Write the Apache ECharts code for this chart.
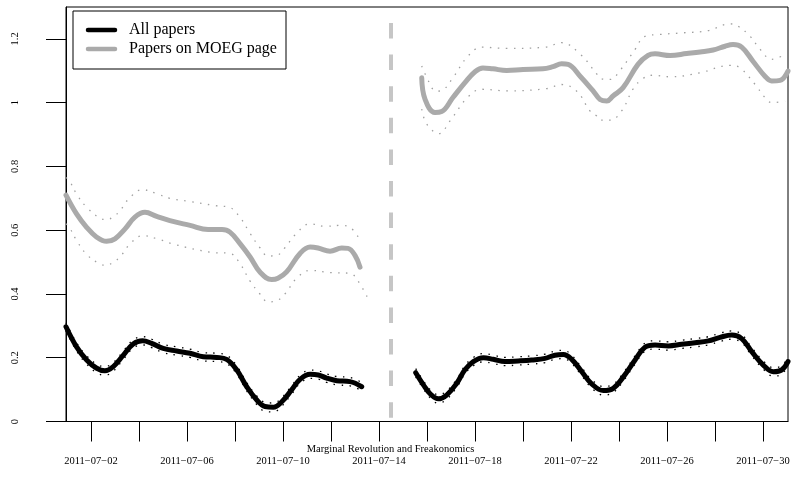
<!DOCTYPE html>
<html><head><meta charset="utf-8">
<script src="https://cdn.jsdelivr.net/npm/echarts@6/dist/echarts.min.js"></script>
<style>html,body{margin:0;padding:0;background:#fff}#c{width:793px;height:497px}</style>
</head><body><div id="c"></div>
<script>
// x values are days of July 2011
const xTickDays = [2,4,6,8,10,12,14,16,18,20,22,24,26,28,30];
const xLabelDays = [2,6,10,14,18,22,26,30];
const xLabels = ['2011\u221207\u221202','2011\u221207\u221206','2011\u221207\u221210','2011\u221207\u221214','2011\u221207\u221218','2011\u221207\u221222','2011\u221207\u221226','2011\u221207\u221230'];
const yTickValues = [0,0.2,0.4,0.6,0.8,1,1.2];
const yTickLabels = ['0','0.2','0.4','0.6','0.8','1','1.2'];
const eventDay = 14.49;
const eventLabel = 'Marginal Revolution and Freakonomics';
const seriesNames = ['All papers','Papers on MOEG page'];

const allLeft = [[0.96,0.297],[1.40,0.234],[1.82,0.193],[2.24,0.167],[2.58,0.159],[2.93,0.172],[3.35,0.208],[3.76,0.243],[4.15,0.253],[4.53,0.245],[5.01,0.229],[5.57,0.221],[6.13,0.214],[6.68,0.203],[7.24,0.201],[7.65,0.195],[8.07,0.162],[8.49,0.109],[8.90,0.068],[9.25,0.047],[9.60,0.045],[9.95,0.062],[10.36,0.099],[10.71,0.132],[11.13,0.148],[11.47,0.146],[11.82,0.136],[12.24,0.128],[12.79,0.125],[13.28,0.109]];
const allLeftUpper = [[0.96,0.310],[1.40,0.247],[1.82,0.206],[2.24,0.180],[2.58,0.172],[2.93,0.185],[3.35,0.221],[3.76,0.256],[4.15,0.266],[4.53,0.258],[5.01,0.242],[5.57,0.234],[6.13,0.227],[6.68,0.216],[7.24,0.214],[7.65,0.208],[8.07,0.175],[8.49,0.122],[8.90,0.081],[9.25,0.060],[9.60,0.058],[9.95,0.075],[10.36,0.112],[10.71,0.145],[11.13,0.161],[11.47,0.159],[11.82,0.149],[12.24,0.141],[12.79,0.138],[13.28,0.122]];
const allLeftLower = [[0.96,0.284],[1.40,0.221],[1.82,0.180],[2.24,0.153],[2.58,0.145],[2.93,0.158],[3.35,0.195],[3.76,0.230],[4.15,0.240],[4.53,0.232],[5.01,0.216],[5.57,0.208],[6.13,0.201],[6.68,0.190],[7.24,0.188],[7.65,0.182],[8.07,0.149],[8.49,0.096],[8.90,0.054],[9.25,0.032],[9.60,0.030],[9.95,0.048],[10.36,0.086],[10.71,0.119],[11.13,0.135],[11.47,0.133],[11.82,0.123],[12.24,0.115],[12.79,0.112],[13.28,0.096]];
const allRight = [[15.53,0.153],[15.85,0.115],[16.13,0.087],[16.47,0.071],[16.82,0.083],[17.24,0.120],[17.58,0.162],[17.93,0.188],[18.35,0.200],[18.76,0.195],[19.25,0.188],[19.80,0.190],[20.36,0.193],[20.92,0.198],[21.33,0.208],[21.68,0.210],[22.03,0.195],[22.45,0.156],[22.86,0.118],[23.35,0.097],[23.76,0.104],[24.18,0.140],[24.67,0.193],[25.08,0.233],[25.50,0.240],[26.05,0.237],[26.61,0.242],[27.17,0.247],[27.72,0.253],[28.21,0.264],[28.70,0.271],[29.11,0.260],[29.53,0.219],[30.01,0.177],[30.43,0.156],[30.78,0.162],[31.04,0.188]];
const allRightUpper = [[15.53,0.166],[15.85,0.128],[16.13,0.100],[16.47,0.084],[16.82,0.096],[17.24,0.133],[17.58,0.175],[17.93,0.201],[18.35,0.213],[18.76,0.208],[19.25,0.201],[19.80,0.203],[20.36,0.206],[20.92,0.211],[21.33,0.221],[21.68,0.223],[22.03,0.208],[22.45,0.169],[22.86,0.131],[23.35,0.110],[23.76,0.117],[24.18,0.153],[24.67,0.206],[25.08,0.246],[25.50,0.253],[26.05,0.250],[26.61,0.255],[27.17,0.260],[27.72,0.266],[28.21,0.277],[28.70,0.284],[29.11,0.273],[29.53,0.232],[30.01,0.190],[30.43,0.169],[30.78,0.175],[31.04,0.201]];
const allRightLower = [[15.53,0.140],[15.85,0.102],[16.13,0.074],[16.47,0.057],[16.82,0.070],[17.24,0.107],[17.58,0.149],[17.93,0.175],[18.35,0.187],[18.76,0.182],[19.25,0.175],[19.80,0.177],[20.36,0.180],[20.92,0.185],[21.33,0.195],[21.68,0.197],[22.03,0.182],[22.45,0.143],[22.86,0.105],[23.35,0.083],[23.76,0.091],[24.18,0.127],[24.67,0.180],[25.08,0.220],[25.50,0.227],[26.05,0.224],[26.61,0.229],[27.17,0.234],[27.72,0.240],[28.21,0.251],[28.70,0.258],[29.11,0.247],[29.53,0.206],[30.01,0.164],[30.43,0.142],[30.78,0.149],[31.04,0.175]];

const moegLeft = [[0.96,0.710],[1.40,0.651],[1.82,0.609],[2.24,0.578],[2.65,0.565],[3.00,0.573],[3.42,0.604],[3.83,0.641],[4.25,0.656],[4.74,0.643],[5.29,0.630],[6.13,0.615],[6.88,0.602],[7.46,0.602],[7.79,0.594],[8.21,0.558],[8.63,0.516],[9.04,0.469],[9.53,0.445],[9.79,0.449],[10.15,0.469],[10.71,0.527],[11.13,0.547],[11.46,0.544],[11.96,0.534],[12.45,0.544],[12.71,0.543],[13.00,0.521],[13.21,0.484]];
const moegLeftUpper = [[0.96,0.765],[1.10,0.755],[1.43,0.710],[1.82,0.672],[2.35,0.639],[2.65,0.633],[2.93,0.642],[3.21,0.661],[3.63,0.703],[4.15,0.727],[4.76,0.714],[5.29,0.700],[6.13,0.690],[7.17,0.677],[7.79,0.671],[8.21,0.640],[8.63,0.590],[9.04,0.545],[9.38,0.519],[9.71,0.520],[10.08,0.545],[10.50,0.585],[11.13,0.620],[11.75,0.612],[12.38,0.615],[12.79,0.609],[13.17,0.574]];
const moegLeftLower = [[0.96,0.620],[1.10,0.609],[1.40,0.568],[1.82,0.524],[2.35,0.495],[2.65,0.490],[2.93,0.500],[3.21,0.516],[3.63,0.557],[4.15,0.583],[4.76,0.573],[5.50,0.555],[6.96,0.531],[7.79,0.527],[8.21,0.495],[8.63,0.440],[9.04,0.400],[9.38,0.375],[9.71,0.378],[10.08,0.400],[10.58,0.450],[11.13,0.474],[11.96,0.467],[12.79,0.465],[13.13,0.440],[13.54,0.386]];
const moegRight = [[15.78,1.078],[15.92,1.010],[16.33,0.969],[16.61,0.972],[17.08,1.016],[17.58,1.063],[18.00,1.097],[18.33,1.109],[18.75,1.106],[19.32,1.101],[20.00,1.104],[20.83,1.106],[21.25,1.113],[21.61,1.122],[21.88,1.120],[22.38,1.083],[22.92,1.037],[23.21,1.010],[23.49,1.005],[23.75,1.021],[24.17,1.047],[24.79,1.120],[25.21,1.148],[25.50,1.153],[26.13,1.148],[26.82,1.154],[27.38,1.159],[27.92,1.165],[28.42,1.177],[28.75,1.182],[29.11,1.174],[29.58,1.130],[30.08,1.083],[30.36,1.068],[30.71,1.070],[31.04,1.099]];
const moegRightUpper = [[15.78,1.115],[15.92,1.090],[16.40,1.036],[16.67,1.040],[17.08,1.078],[17.71,1.146],[18.28,1.174],[19.32,1.170],[20.92,1.174],[21.61,1.188],[22.38,1.152],[23.07,1.090],[23.21,1.076],[23.63,1.073],[24.04,1.101],[24.67,1.167],[25.08,1.208],[25.71,1.214],[26.67,1.219],[27.71,1.226],[28.63,1.247],[28.96,1.240],[29.46,1.208],[29.88,1.167],[30.36,1.136],[30.92,1.151]];
const moegRightLower = [[15.78,0.980],[15.99,0.933],[16.50,0.903],[16.96,0.943],[17.71,1.018],[18.28,1.042],[19.32,1.037],[20.99,1.044],[21.61,1.057],[22.24,1.036],[22.79,0.974],[23.07,0.958],[23.21,0.945],[23.63,0.945],[24.11,0.974],[24.58,1.042],[25.00,1.076],[25.42,1.086],[26.13,1.081],[27.38,1.094],[28.63,1.117],[29.04,1.109],[29.67,1.057],[30.08,1.016],[30.36,1.000],[30.92,1.005]];

const FONT = '"Liberation Serif","Times New Roman",serif';
const BLACK = '#000000', GREY = '#aaaaaa', GREY_DOT = '#a0a0a0';

function lineS(data, color, width, type, z, extra) {
  return Object.assign({
    type: 'line', data: data, symbol: 'none', smooth: 0.4, silent: true, z: z,
    lineStyle: { color: color, width: width, type: type, cap: type === 'solid' ? 'round' : 'butt', join: 'round' }
  }, extra || {});
}

const chart = echarts.init(document.getElementById('c'), null, { renderer: 'canvas' });
const series = [
  lineS(moegLeft, GREY, 5, 'solid', 2, {
    markLine: {
      symbol: 'none', silent: true, label: { show: false },
      lineStyle: { color: '#c6c6c6', width: 4, type: [15.5, 16.1], dashOffset: 15.6, cap: 'butt' },
      data: [[{ coord: [eventDay, 1.3] }, { coord: [eventDay, 0] }]]
    }
  }),
  lineS(moegRight, GREY, 5, 'solid', 2),
  lineS(moegLeftUpper, GREY_DOT, 1.3, [1.5, 6.5], 3),
  lineS(moegLeftLower, GREY_DOT, 1.3, [1.5, 6.5], 3),
  lineS(moegRightUpper, GREY_DOT, 1.3, [1.5, 6.5], 3),
  lineS(moegRightLower, GREY_DOT, 1.3, [1.5, 6.5], 3),
  lineS(allLeft, BLACK, 5, 'solid', 4),
  lineS(allRight, BLACK, 5, 'solid', 4),
  lineS(allLeftUpper, BLACK, 1.3, [1.5, 6.5], 5),
  lineS(allLeftLower, BLACK, 1.3, [1.5, 6.5], 5),
  lineS(allRightUpper, BLACK, 1.3, [1.5, 6.5], 5),
  lineS(allRightLower, BLACK, 1.3, [1.5, 6.5], 5)
];

chart.setOption({
  animation: false,
  backgroundColor: '#ffffff',
  grid: { left: 66, right: 5, top: 7, bottom: 75.5, show: true, borderColor: '#000', borderWidth: 1, containLabel: false },
  xAxis: {
    type: 'value', min: 0.96, max: 31.04,
    axisLine: { show: true, lineStyle: { color: '#000', width: 1 } },
    axisTick: { show: true, inside: false, length: 20, customValues: xTickDays, lineStyle: { color: '#000', width: 1 } },
    axisLabel: {
      customValues: xLabelDays, margin: 34.5, color: '#000', fontFamily: FONT, fontSize: 10.5,
      formatter: function (v) { const i = xLabelDays.indexOf(v); return i >= 0 ? xLabels[i] : ''; }
    },
    splitLine: { show: false }
  },
  yAxis: {
    type: 'value', min: 0, max: 1.3,
    axisLine: { show: true, lineStyle: { color: '#000', width: 1 } },
    axisTick: { show: true, inside: false, length: 20, customValues: yTickValues, lineStyle: { color: '#000', width: 1 } },
    axisLabel: {
      customValues: yTickValues, rotate: 90, margin: 45, color: '#000', fontFamily: FONT, fontSize: 10.5,
      formatter: function (v) { const i = yTickValues.findIndex(t => Math.abs(t - v) < 1e-9); return i >= 0 ? yTickLabels[i] : ''; }
    },
    splitLine: { show: false }
  },
  graphic: [
    { type: 'text', z: 10, style: { text: eventLabel, x: 390.5, y: 449, fontFamily: FONT, fontSize: 10.5, fill: '#000', align: 'center', verticalAlign: 'middle' } },
    { type: 'rect', z: 20, shape: { x: 73, y: 11, width: 213, height: 58 }, style: { fill: '#fff', stroke: '#000', lineWidth: 1 } },
    { type: 'line', z: 21, shape: { x1: 88, y1: 30, x2: 115, y2: 30 }, style: { stroke: BLACK, lineWidth: 4.5, lineCap: 'round' } },
    { type: 'line', z: 21, shape: { x1: 88, y1: 49, x2: 115, y2: 49 }, style: { stroke: GREY, lineWidth: 4.5, lineCap: 'round' } },
    { type: 'text', z: 21, style: { text: seriesNames[0], x: 129, y: 30, fontFamily: FONT, fontSize: 16, fill: '#000', verticalAlign: 'middle' } },
    { type: 'text', z: 21, style: { text: seriesNames[1], x: 129, y: 49, fontFamily: FONT, fontSize: 16, fill: '#000', verticalAlign: 'middle' } }
  ],
  series: series
});
</script></body></html>
